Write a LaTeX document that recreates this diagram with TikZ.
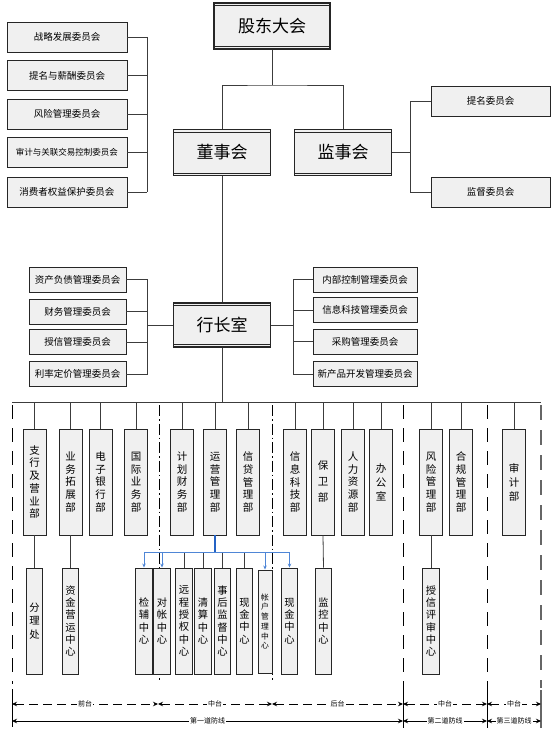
\documentclass[tikz,border=0pt]{standalone}
\usepackage{fontspec}
\setmainfont{Noto Sans CJK SC}
\usetikzlibrary{arrows.meta}
\definecolor{boxfill}{HTML}{F0F0F0}
\definecolor{linegray}{HTML}{3C3C3C}
\definecolor{blueL}{HTML}{4F86D6}
\definecolor{blueD}{HTML}{2462C4}
\begin{document}
\begin{tikzpicture}[x=1pt,y=-1pt,
  box/.style={draw=black!85, fill=boxfill, line width=0.9pt, inner sep=0pt, align=center},
  bigbox/.style={box, line width=1.1pt, font=\fontsize{17}{20}\selectfont,
    path picture={\draw[black!85, line width=0.6pt]
      ([yshift=-2.6pt]path picture bounding box.north west) -- ([yshift=-2.6pt]path picture bounding box.north east)
      ([yshift=2.6pt]path picture bounding box.south west) -- ([yshift=2.6pt]path picture bounding box.south east);}},
  cbox/.style={box, font=\fontsize{9.5}{11}\selectfont},
  dept/.style={box, minimum width=23pt, minimum height=106pt, font=\fontsize{10.5}{12.7}\selectfont},
  ctr/.style={box, minimum width=16.5pt, minimum height=106pt, font=\fontsize{10.3}{12.3}\selectfont},
  conn/.style={draw=linegray, line width=0.8pt},
  sepA/.style={draw=black, line width=0.9pt, dash pattern=on 14pt off 9pt},
  sepB/.style={draw=black, line width=0.9pt, dash pattern=on 11pt off 3pt on 1.5pt off 3pt},
  sepC/.style={draw=black!60, line width=1.6pt, dash pattern=on 15pt off 10pt},
  tip/.style={{Stealth[length=5pt,width=4.5pt]}-{Stealth[length=5pt,width=4.5pt]}},
  lab/.style={fill=white, inner sep=1pt, font=\fontsize{7}{8}\selectfont},
]
\useasboundingbox (0,0) rectangle (554,733);

% ---- top level
\node[bigbox, minimum width=116pt, minimum height=46pt] (gd) at (272,26) {股东大会};
\node[bigbox, minimum width=97pt, minimum height=46pt] (ds) at (222,152.5) {董事会};
\node[bigbox, minimum width=97pt, minimum height=46pt] (js) at (343,152.5) {监事会};
\coordinate (j1) at (272,85);
\draw[conn] (gd.south) -- (j1);
\draw[conn] (ds.north) |- (j1) -| (js.north);

% ---- board committees
\node[cbox, minimum width=120pt, minimum height=30pt] (c1) at (67,37) {战略发展委员会};
\node[cbox, minimum width=120pt, minimum height=30pt] (c2) at (67,75.5) {提名与薪酬委员会};
\node[cbox, minimum width=120pt, minimum height=30pt] (c3) at (67,114) {风险管理委员会};
\node[cbox, minimum width=120pt, minimum height=30pt, font=\fontsize{8.5}{10}\selectfont] (c4) at (67,152.5) {审计与关联交易控制委员会};
\node[cbox, minimum width=120pt, minimum height=30pt] (c5) at (67,192) {消费者权益保护委员会};
\coordinate (bl1) at (147,114);
\foreach \n in {c1,c2,c3,c4,c5} \draw[conn] (\n.east) -- (\n.east -| bl1);
\draw[conn] (c1.east -| bl1) -- (c5.east -| bl1);

% ---- supervisory committees
\node[cbox, minimum width=119pt, minimum height=30pt] (s1) at (490.5,101) {提名委员会};
\node[cbox, minimum width=119pt, minimum height=30pt] (s2) at (490.5,192) {监督委员会};
\coordinate (br1) at (410,152.5);
\draw[conn] (js.east) -- (br1);
\draw[conn] (s1.west) -| (br1);
\draw[conn] (s2.west) -| (br1);

% ---- president office
\node[bigbox, minimum width=97pt, minimum height=44pt] (hz) at (222,325) {行长室};
\draw[conn] (ds.south) -- (hz.north);

\node[cbox, minimum width=97pt, minimum height=25pt] (k1) at (77.5,279.5) {资产负债管理委员会};
\node[cbox, minimum width=97pt, minimum height=25pt] (k2) at (77.5,311.5) {财务管理委员会};
\node[cbox, minimum width=97pt, minimum height=25pt] (k3) at (77.5,342) {授信管理委员会};
\node[cbox, minimum width=97pt, minimum height=25pt] (k4) at (77.5,374) {利率定价管理委员会};
\coordinate (bl2) at (147,325);
\draw[conn] (hz.west) -- (bl2);
\foreach \n in {k1,k2,k3,k4} \draw[conn] (\n.east) -| (bl2);

\node[cbox, minimum width=104pt, minimum height=25pt] (m1) at (365,279.5) {内部控制管理委员会};
\node[cbox, minimum width=104pt, minimum height=25pt] (m2) at (365,310) {信息科技管理委员会};
\node[cbox, minimum width=104pt, minimum height=25pt] (m3) at (365,341.5) {采购管理委员会};
\node[cbox, minimum width=104pt, minimum height=25pt] (m4) at (365,374) {新产品开发管理委员会};
\coordinate (br2) at (293,325);
\draw[conn] (hz.east) -- (br2);
\foreach \n in {m1,m2,m3,m4} \draw[conn] (\n.west) -| (br2);

% ---- separators (drawn first)
\draw[sepA] (12,405) -- (12,684);
\draw[sepB] (159,405) -- (159,680);
\draw[sepB] (272,405) -- (272,680);
\draw[sepA] (403,405) -- (403,684);
\draw[sepA] (487,405) -- (487,684);
\draw[sepC] (541,405) -- (541,688);

% ---- bus
\coordinate (bus) at (222,402);
\coordinate (busL) at (12,402);
\coordinate (busR) at (541,402);
\draw[conn] (hz.south) -- (bus);
\draw[conn] (busL) -- (busR);

% ---- departments
\node[dept] (zb) at (34.5,482) {支\\行\\及\\营\\业\\部};
\node[dept] (yw) at (70.5,482) {业\\务\\拓\\展\\部};
\node[dept] (dz) at (100.5,482) {电\\子\\银\\行\\部};
\node[dept] (gj) at (136,482) {国\\际\\业\\务\\部};
\node[dept] (jh) at (182,482) {计\\划\\财\\务\\部};
\node[dept] (yy) at (215,482) {运\\营\\管\\理\\部};
\node[dept] (xd) at (248,482) {信\\贷\\管\\理\\部};
\node[dept] (xk) at (295,482) {信\\息\\科\\技\\部};
\node[dept, font=\fontsize{10.5}{16}\selectfont] (bw) at (323,482) {保\\卫\\部};
\node[dept] (rl) at (353,482) {人\\力\\资\\源\\部};
\node[dept, font=\fontsize{10.5}{14}\selectfont] (bg) at (381,482) {办\\公\\室};
\node[dept] (fx) at (431,482) {风\\险\\管\\理\\部};
\node[dept] (hg) at (461,482) {合\\规\\管\\理\\部};
\node[dept, font=\fontsize{10.5}{14}\selectfont] (sj) at (514,482) {审\\计\\部};
\foreach \n in {zb,yw,dz,gj,jh,yy,xd,xk,bw,rl,bg,fx,hg,sj}
  \draw[conn] (\n.north |- bus) -- (\n.north);

% ---- centres
\node[ctr, font=\fontsize{10.3}{13.3}\selectfont] (flc) at (34.5,621) {分\\理\\处};
\node[ctr] (zjc) at (70.5,621) {资\\金\\营\\运\\中\\心};
\node[ctr] (jfc) at (144,621) {检\\辅\\中\\心};
\node[ctr] (dzc) at (162,621) {对\\帐\\中\\心};
\node[ctr] (ycc) at (184,621) {远\\程\\授\\权\\中\\心};
\node[ctr] (qsc) at (203,621) {清\\算\\中\\心};
\node[ctr] (shc) at (222.5,621) {事\\后\\监\\督\\中\\心};
\node[ctr] (xjc1) at (244.5,621) {现\\金\\中\\心};
\node[ctr, minimum width=14pt, minimum height=103pt, font=\fontsize{7.8}{9.7}\selectfont] (zhc) at (265,621.5) {帐\\户\\管\\理\\中\\心};
\node[ctr] (xjc2) at (289.5,621) {现\\金\\中\\心};
\node[ctr] (jkc) at (323.5,621) {监\\控\\中\\心};
\node[ctr] (sxc) at (431,621) {授\\信\\评\\审\\中\\心};

\draw[conn] (zb.south) -- (flc.north);
\draw[conn] (yw.south) -- (zjc.north);
\draw[conn] (bw.south) -- (jkc.north);
\draw[conn] (fx.south) -- (sxc.north);

% ---- operations sub-centres
\coordinate (bj) at (215,552);
\foreach \n in {ycc,qsc,shc,xjc1} \draw[conn] (\n.north |- bj) -- (\n.north);
\foreach \n in {jfc,dzc,zhc,xjc2}
  \draw[draw=blueL, line width=0.8pt, -{Stealth[length=4pt,width=3.5pt]}] (bj) -| (\n.north);
\draw[draw=blueD, line width=1.4pt] (yy.south) -- (bj);

% ---- bottom annotation
\coordinate (a0) at (12,704);
\coordinate (a1) at (158,704);
\coordinate (a2) at (272,704);
\coordinate (a3) at (403,704);
\coordinate (a4) at (487,704);
\coordinate (a5) at (541,704);
\coordinate (b0) at (12,721);
\coordinate (b3) at (403,721);
\coordinate (b4) at (487,721);
\coordinate (b5) at (541,721);

\draw[line width=0.9pt] (12,689) -- (12,727);
\draw[line width=0.8pt] (403,684) -- (403,728);
\draw[line width=0.8pt] (487,684) -- (487,728);
\draw[draw=black!60, line width=1.6pt] (541,690) -- (541,728);

\begin{scope}[line width=0.9pt, dash pattern=on 9pt off 5pt]
\draw[tip] (a0) -- (a1) node[lab, midway] {前台};
\draw[tip] (a1) -- (a2) node[lab, midway] {中台};
\draw[tip] (a2) -- (a3) node[lab, midway] {后台};
\draw[tip] (a3) -- (a4) node[lab, midway] {中台};
\draw[tip] (a4) -- (a5) node[lab, midway] {中台};
\end{scope}
\draw[tip, line width=0.8pt] (b0) -- (b3) node[lab, midway] {第一道防线};
\draw[tip, line width=0.8pt] (b3) -- (b4) node[lab, midway] {第二道防线};
\draw[tip, line width=0.8pt] (b4) -- (b5) node[lab, midway] {第三道防线};
\end{tikzpicture}
\end{document}
